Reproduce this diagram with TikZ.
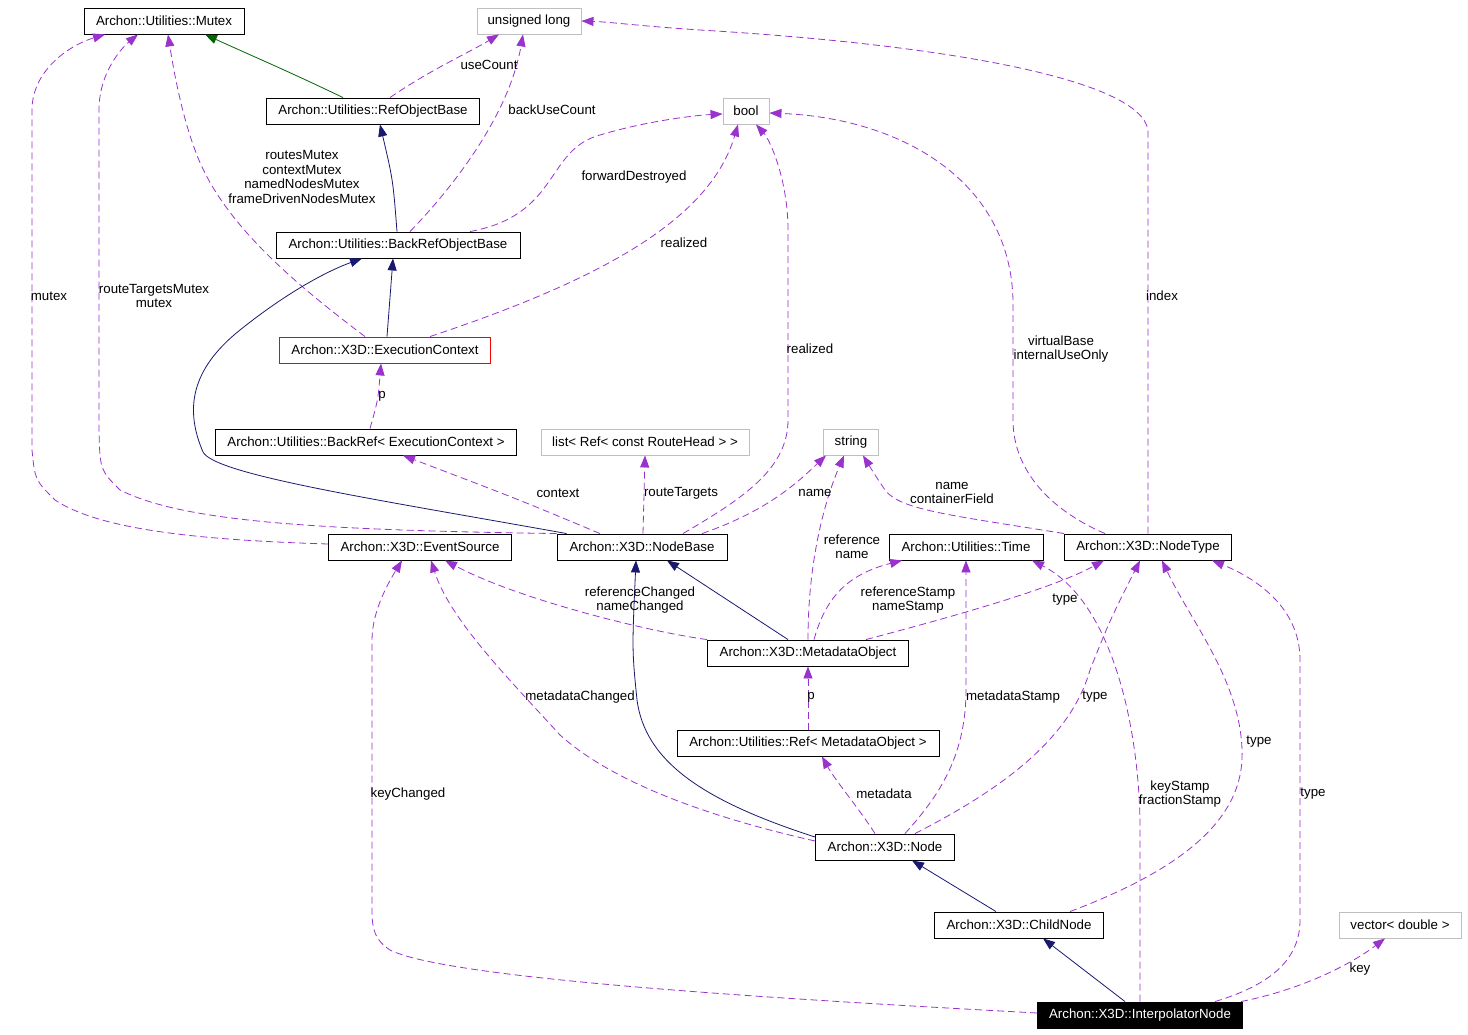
\documentclass[tikz,border=0pt]{standalone}
\usepackage{fontspec}
\setmainfont{Liberation Sans}
\usetikzlibrary{arrows.meta}
\definecolor{purp}{HTML}{9A32CD}
\definecolor{navyc}{HTML}{191970}
\definecolor{dgreen}{HTML}{006400}
\definecolor{grayb}{HTML}{BFBFBF}
\begin{document}
\begin{tikzpicture}[x=1pt,y=-1pt,
  font=\fontsize{13.3}{14.5}\selectfont,
  cls/.style={draw=black, line width=0.9pt, minimum height=26pt, inner xsep=0pt, inner ysep=0pt, fill=white},
  extcls/.style={cls, draw=grayb},
  maincls/.style={cls, draw=red},
  hlcls/.style={cls, fill=black, text=white},
  tipa/.style={-{Triangle[length=12pt,width=9pt]}},
  dep/.style={draw=purp, line width=0.8pt, dash pattern=on 7pt off 4pt, tipa},
  inh/.style={draw=navyc, line width=0.8pt, tipa},
  pub/.style={draw=dgreen, line width=0.8pt, tipa},
  lbl/.style={align=center, inner sep=0pt}]
\fill[white] (0,0) rectangle (1468,1035);
\useasboundingbox (0,0) rectangle (1468,1035);
% nodes
\node[cls, minimum width=160pt] (mutex) at (164,21) {Archon::Utilities::Mutex};
\node[extcls, minimum width=104pt] (ul) at (529,21) {unsigned long};
\node[cls, minimum width=213pt] (rob) at (373,111) {Archon::Utilities::RefObjectBase};
\node[extcls, minimum width=46pt] (bool) at (746,111) {bool};
\node[cls, minimum width=244pt] (brob) at (398,245) {Archon::Utilities::BackRefObjectBase};
\node[maincls, minimum width=211pt] (ec) at (385,350) {Archon::X3D::ExecutionContext};
\node[cls, minimum width=301pt] (bref) at (366,442) {Archon::Utilities::BackRef< ExecutionContext >};
\node[extcls, minimum width=208pt] (list) at (645,442) {list< Ref< const RouteHead > >};
\node[extcls, minimum width=55pt] (str) at (851,442) {string};
\node[cls, minimum width=183pt] (es) at (420,547) {Archon::X3D::EventSource};
\node[cls, minimum width=170pt] (nb) at (642,547) {Archon::X3D::NodeBase};
\node[cls, minimum width=154pt] (time) at (966,547) {Archon::Utilities::Time};
\node[cls, minimum width=167pt] (nt) at (1148,547) {Archon::X3D::NodeType};
\node[cls, minimum width=201pt] (mo) at (808,653) {Archon::X3D::MetadataObject};
\node[cls, minimum width=262pt] (ref) at (808,743) {Archon::Utilities::Ref< MetadataObject >};
\node[cls, minimum width=139pt] (node) at (885,847) {Archon::X3D::Node};
\node[cls, minimum width=169pt] (cn) at (1019,925) {Archon::X3D::ChildNode};
\node[extcls, minimum width=122pt] (vec) at (1400,925) {vector< double >};
\node[hlcls, minimum width=205pt] (in) at (1140,1015) {Archon::X3D::InterpolatorNode};
% edges
\draw[pub] ([xshift=-30pt]rob.north) .. controls (290,72) and (250,55) .. ([xshift=41pt]mutex.south);
\draw[dep] ([xshift=17pt]rob.north) .. controls (430,70) and (470,52) .. ([xshift=-30pt]ul.south);
\draw[inh] ([xshift=-1pt]brob.north) .. controls (393,180) .. ([xshift=7pt]rob.south);
\draw[dep] ([xshift=12pt]brob.north) .. controls (460,180) and (510,110) .. ([xshift=-6pt]ul.south);
\draw[dep] ([xshift=72pt]brob.north) .. controls (560,215) and (545,150) .. (600,135) .. controls (650,120) and (700,115) .. ([yshift=-3pt]bool.west);
\draw[inh] ([xshift=2pt]ec.north) -- ([xshift=-5pt]brob.south);
\draw[dep] ([xshift=-20pt]ec.north) .. controls (290,280) and (220,220) .. (195,150) .. controls (180,110) and (172,60) .. ([xshift=4pt]mutex.south);
\draw[dep] ([xshift=45pt]ec.north) .. controls (600,280) and (710,220) .. ([xshift=-8pt]bool.south);
\draw[dep] ([xshift=4pt]bref.north) .. controls (378,400) .. ([xshift=-4pt]ec.south);
\draw[inh] ([xshift=10pt]nb.north west) .. controls (380,500) and (215,475) .. (203,452) .. controls (185,410) and (190,370) .. (240,330) .. controls (290,290) and (330,270) .. ([xshift=-36pt]brob.south);
\draw[dep] (nb.north west) .. controls (300,530) and (180,520) .. (120,490) .. controls (100,470) .. (99,430) -- (99,110) .. controls (99,70) and (125,45) .. ([xshift=-26pt]mutex.south);
\draw[dep] ([yshift=3pt]es.west) .. controls (200,540) and (100,530) .. (55,500) .. controls (35,480) .. (32,450) -- (32,110) .. controls (32,70) and (70,45) .. ([xshift=-59pt]mutex.south);
\draw[dep] ([xshift=-42pt]nb.north) .. controls (520,500) .. ([xshift=37pt]bref.south);
\draw[dep] ([xshift=1pt]nb.north) -- (list.south);
\draw[dep] ([xshift=41pt]nb.north) .. controls (740,500) and (788,470) .. (788,420) -- (788,230) .. controls (788,180) and (770,140) .. ([xshift=10pt]bool.south);
\draw[dep] ([xshift=60pt]nb.north) .. controls (770,510) and (800,480) .. ([xshift=-25pt]str.south);
\draw[dep] (nt.north west) .. controls (950,515) and (900,510) .. (885,490) .. controls (875,475) .. ([xshift=12pt]str.south);
\draw[dep] ([xshift=-43pt]nt.north) .. controls (1050,510) and (1013,470) .. (1013,420) -- (1013,300) .. controls (1010,180) and (900,118) .. ([yshift=-2pt]bool.east);
\draw[dep] (nt.north) -- (1148,130) .. controls (1140,80) and (950,45) .. (700,30) .. controls (640,26) and (610,22) .. (ul.east);
\draw[dep] (mo.north west) .. controls (650,632) and (520,600) .. ([xshift=25pt]es.south);
\draw[inh] ([xshift=-20pt]mo.north) -- ([xshift=25pt]nb.south);
\draw[dep] (mo.north) .. controls (808,560) and (825,500) .. ([xshift=-7pt]str.south);
\draw[dep] ([xshift=6pt]mo.north) .. controls (825,600) and (845,575) .. ([xshift=-64pt]time.south);
\draw[dep] ([xshift=58pt]mo.north) .. controls (940,620) and (1050,590) .. ([xshift=-44pt]nt.south);
\draw[dep] (ref.north) -- (mo.south);
\draw[dep] ([yshift=6pt]node.west) .. controls (700,815) and (610,780) .. (560,735) .. controls (510,680) and (450,620) .. ([xshift=11pt]es.south);
\draw[inh] ([yshift=10pt]node.west) .. controls (700,800) and (645,760) .. (637,700) .. controls (632,650) .. ([xshift=-6pt]nb.south);
\draw[dep] ([xshift=-10pt]node.north) .. controls (860,810) and (835,780) .. ([xshift=14pt]ref.south);
\draw[dep] ([xshift=20pt]node.north) .. controls (935,800) and (966,760) .. (966,690) -- (time.south);
\draw[dep] ([xshift=30pt]node.north) .. controls (1000,790) and (1070,740) .. (1090,670) .. controls (1110,620) .. ([xshift=-8pt]nt.south);
\draw[inh] ([xshift=-23pt]cn.north) -- ([xshift=27pt]node.south);
\draw[dep] ([xshift=51pt]cn.north) .. controls (1180,870) and (1245,820) .. (1242,750) .. controls (1240,680) and (1190,620) .. ([xshift=14pt]nt.south);
\draw[inh] ([xshift=-15pt]in.north) -- ([xshift=24pt]cn.south);
\draw[dep] ([yshift=2pt]in.west) .. controls (800,1000) and (450,980) .. (390,950) .. controls (375,940) and (372,930) .. (372,910) -- (372,640) .. controls (372,610) and (390,580) .. ([xshift=-18pt]es.south);
\draw[dep] (in.north) -- (1140,820) .. controls (1138,720) and (1110,600) .. ([xshift=66pt]time.south);
\draw[dep] ([xshift=75pt]in.north) .. controls (1270,985) and (1300,960) .. (1300,920) -- (1300,660) .. controls (1300,610) and (1260,580) .. ([xshift=64pt]nt.south);
\draw[dep] ([xshift=-2pt]in.north east) .. controls (1300,990) and (1350,965) .. ([xshift=-15pt]vec.south);
% labels
\node[lbl] (l1) at (489,65) {useCount};
\node[lbl] (l2) at (552,110) {backUseCount};
\node[lbl] (l3) at (634,177) {forwardDestroyed};
\node[lbl] (l4) at (302,177) {routesMutex\\contextMutex\\namedNodesMutex\\frameDrivenNodesMutex};
\node[lbl] (l5) at (684,243) {realized};
\node[lbl] (l6) at (49,296) {mutex};
\node[lbl] (l7) at (154,296) {routeTargetsMutex\\mutex};
\node[lbl] (l8) at (382,396) {p};
\node[lbl] (l9) at (810,349) {realized};
\node[lbl] (l10) at (1061,349) {virtualBase\\internalUseOnly};
\node[lbl] (l11) at (1162,296) {index};
\node[lbl] (l12) at (558,493) {context};
\node[lbl] (l13) at (681,493) {routeTargets};
\node[lbl] (l14) at (815,493) {name};
\node[lbl] (l15) at (952,493) {name\\containerField};
\node[lbl] (l16) at (852,547) {reference\\name};
\node[lbl] (l17) at (640,600) {referenceChanged\\nameChanged};
\node[lbl] (l18) at (908,600) {referenceStamp\\nameStamp};
\node[lbl] (l19) at (1065,600) {type};
\node[lbl] (l20) at (811,697) {p};
\node[lbl] (l21) at (580,697) {metadataChanged};
\node[lbl] (l22) at (1013,697) {metadataStamp};
\node[lbl] (l23) at (1095,697) {type};
\node[lbl] (l24) at (1259,742) {type};
\node[lbl] (l25) at (884,794) {metadata};
\node[lbl] (l26) at (408,794) {keyChanged};
\node[lbl] (l27) at (1180,794) {keyStamp\\fractionStamp};
\node[lbl] (l28) at (1313,794) {type};
\node[lbl] (l29) at (1360,969) {key};
\end{tikzpicture}
\end{document}
